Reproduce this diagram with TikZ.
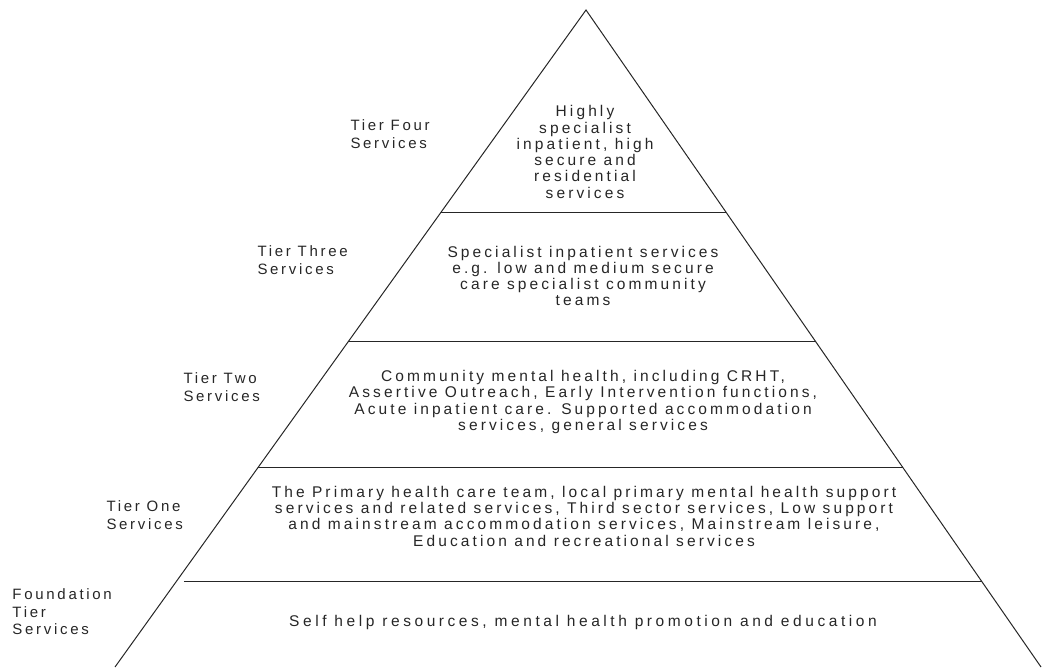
\documentclass[tikz,border=0pt]{standalone}
\usepackage{fontspec}
\newfontfamily\tierfont{Liberation Sans}[LetterSpace=18]
\newfontfamily\bandfont{Liberation Sans}[LetterSpace=20]
\newfontfamily\basefont{Liberation Sans}[LetterSpace=23]
\usepackage{tikz}
\usetikzlibrary{calc}

\begin{document}
\begin{tikzpicture}
[x=1pt,y=-1pt, line width=1pt,
tier/.style={anchor=west,align=left,inner sep=0pt,text=black!85,
font=\tierfont\fontsize{15}{17.5}\selectfont},
band/.style={align=center,inner sep=0pt,text=black!85,
font=\bandfont\fontsize{15.5}{16.3}\selectfont}]
\useasboundingbox (0,0) rectangle (1043,667);

\coordinate (top) at (586,10);
\coordinate (bl) at (115,667);
\coordinate (br) at (1041,667);

\draw[black!85] (bl) -- (top) -- (br);

% dividers
\draw[black!85] ($(top)!0.3075!(bl)$) -- ($(top)!0.3075!(br)$);
\draw[black!85] ($(top)!0.5038!(bl)$) -- ($(top)!0.5038!(br)$);
\draw[black!85] ($(top)!0.6956!(bl)$) -- ($(top)!0.6956!(br)$);
\draw[black!85] ($(top)!0.8706!(bl)+(8,0)$) -- ($(top)!0.8706!(br)$);

% tier names
\node (t4) at (350,134) [tier] {Tier Four\\Services};
\node (t3) at (257,260) [tier] {Tier Three\\Services};
\node (t2) at (183,387) [tier] {Tier Two\\Services};
\node (t1) at (106,515) [tier] {Tier One\\Services};
\node (t0) at (12,612) [tier] {Foundation\\Tier\\Services};

% services
\node (s4) at (585,152) [band] {Highly\\specialist\\inpatient, high\\secure and\\residential\\services};
\node (s3) at (583,276) [band] {Specialist inpatient services\\e.g. low and medium secure\\care specialist community\\teams};
\node (s2) at (583,402) [band] {Community mental health, including CRHT,\\Assertive Outreach, Early Intervention functions,\\Acute inpatient care. Supported accommodation\\services, general services};
\node (s1) at (584,516) [band] {The Primary health care team, local primary mental health support\\services and related services, Third sector services, Low support\\and mainstream accommodation services, Mainstream leisure,\\Education and recreational services};
\node (s0) at (583,622) [band,font=\basefont\fontsize{15.5}{16.3}\selectfont] {Self help resources, mental health promotion and education};

\end{tikzpicture}
\end{document}
